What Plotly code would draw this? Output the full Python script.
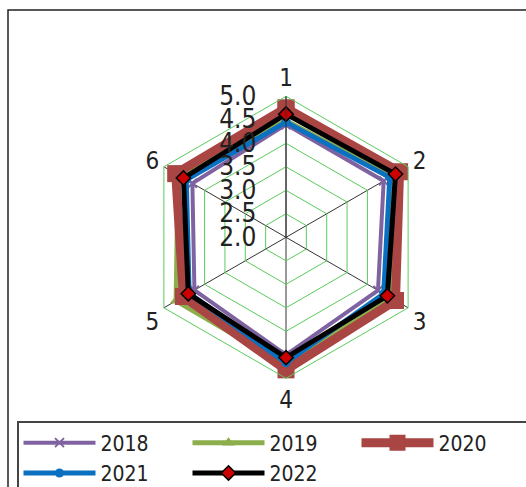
import plotly.graph_objects as go

categories = ["1", "2", "3", "4", "5", "6"]
years = ["2018", "2019", "2020", "2021", "2022"]
v2018 = [4.40, 4.40, 4.26, 4.50, 4.25, 4.30]
v2019 = [4.48, 4.60, 4.55, 4.72, 4.70, 4.65]
v2020 = [4.75, 4.79, 4.69, 4.82, 4.52, 4.71]
v2021 = [4.45, 4.55, 4.40, 4.67, 4.38, 4.45]
v2022 = [4.62, 4.69, 4.49, 4.56, 4.40, 4.52]
radial_ticks = [2.0, 2.5, 3.0, 3.5, 4.0, 4.5, 5.0]
radial_ticktext = ["2.0", "2.5", "3.0", "3.5", "4.0", "4.5", "5.0"]

FONT = "DejaVu Sans Condensed, Liberation Sans Narrow, sans-serif"

styles = [
    dict(color="#7F63A1", width=4, symbol="x-thin", size=9, mcolor="#7F63A1", mline="#7F63A1", mlw=2),
    dict(color="#8DAE4C", width=5, symbol="triangle-up", size=11, mcolor="#8DAE4C", mline="#8DAE4C", mlw=0),
    dict(color="#A94542", width=9, symbol="square", size=17, mcolor="#A94542", mline="#A94542", mlw=0),
    dict(color="#0A70C0", width=5, symbol="circle", size=9, mcolor="#0A70C0", mline="#0A70C0", mlw=0),
    dict(color="#000000", width=5, symbol="diamond", size=11, mcolor="#CC0000", mline="#000000", mlw=1.5),
]
series = [v2018, v2019, v2020, v2021, v2022]

fig = go.Figure()
for name, vals, st in zip(years, series, styles):
    fig.add_trace(go.Scatterpolar(
        r=vals + vals[:1],
        theta=categories + categories[:1],
        mode="lines+markers",
        name=name,
        line=dict(color=st["color"], width=st["width"]),
        marker=dict(symbol=st["symbol"], size=st["size"], color=st["mcolor"],
                    line=dict(color=st["mline"], width=st["mlw"])),
    ))

W, H = 526, 487
cx, cy, R = 286, 237.3, 141
fig.update_layout(
    width=W, height=H,
    margin=dict(l=0, r=0, t=0, b=0, autoexpand=False),
    paper_bgcolor="white",
    plot_bgcolor="white",
    font=dict(family=FONT, size=23, color="#222222"),
    polar=dict(
        domain=dict(x=[(cx - R) / W, (cx + R) / W], y=[(H - cy - R) / H, (H - cy + R) / H]),
        bgcolor="white",
        gridshape="linear",
        angularaxis=dict(
            type="category", categoryarray=categories,
            rotation=90, direction="clockwise",
            showline=True, linecolor="#5BCB5B", linewidth=1,
            gridcolor="#333333", gridwidth=1,
            ticks="", tickfont=dict(size=24, family=FONT),
        ),
        radialaxis=dict(
            range=[2, 5], tickvals=radial_ticks, ticktext=radial_ticktext,
            angle=90, side="counterclockwise",
            showline=True, linecolor="#333333", linewidth=1,
            gridcolor="#5BCB5B", gridwidth=1,
            ticks="outside", ticklen=20, tickcolor="rgba(0,0,0,0)",
            tickfont=dict(size=26, family=FONT),
            tickangle=90,
        ),
    ),
    legend=dict(
        orientation="h",
        xref="container", yref="container",
        x=17 / W, xanchor="left",
        y=1 - 421 / H, yanchor="top",
        entrywidth=82,
        bordercolor="#444444", borderwidth=1.5,
        font=dict(size=21, family=FONT),
        itemwidth=72,
        traceorder="normal",
    ),
    showlegend=True,
)

fig.add_shape(type="rect", xref="paper", yref="paper",
              x0=8 / W, y0=-0.1, x1=1.1, y1=1 - 10 / H,
              line=dict(color="#222222", width=1.5), fillcolor="rgba(0,0,0,0)", layer="below")

fig.write_html("out.html", config={"displayModeBar": False},
               post_script="document.body.style.margin='0';")
